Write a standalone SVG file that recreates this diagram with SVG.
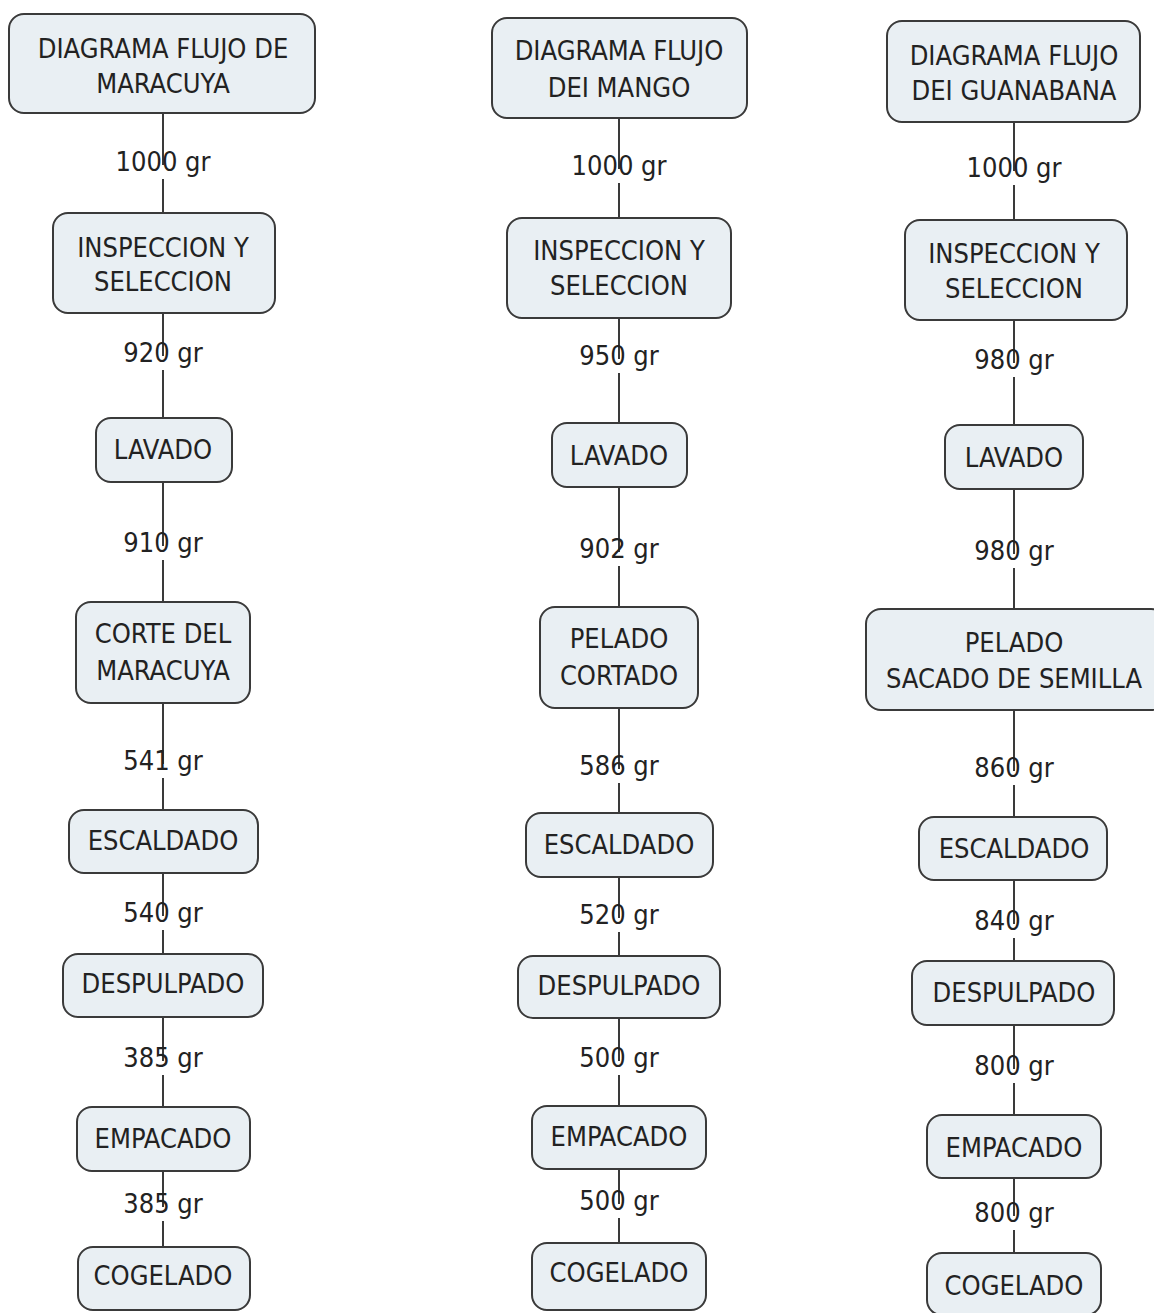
<svg xmlns="http://www.w3.org/2000/svg" width="1154" height="1313" viewBox="0 0 1154 1313">
<style>
.n rect{fill:#e9eff3;stroke:#3a3a3a;stroke-width:2}
text{font-family:"DejaVu Sans Condensed","DejaVu Sans",sans-serif;font-size:27px;fill:#222;text-anchor:middle}
.c line{stroke:#3a3a3a;stroke-width:2}
</style>
<rect width="1154" height="1313" fill="#fff"/>
<g class="c" id="connectors">
<line x1="163" y1="113" x2="163" y2="165"/><line x1="163" y1="179" x2="163" y2="213"/>
<line x1="163" y1="313" x2="163" y2="356"/><line x1="163" y1="370" x2="163" y2="418"/>
<line x1="163" y1="482" x2="163" y2="546"/><line x1="163" y1="560" x2="163" y2="602"/>
<line x1="163" y1="703" x2="163" y2="764"/><line x1="163" y1="778" x2="163" y2="810"/>
<line x1="163" y1="873" x2="163" y2="916"/><line x1="163" y1="930" x2="163" y2="954"/>
<line x1="163" y1="1017" x2="163" y2="1061"/><line x1="163" y1="1075" x2="163" y2="1107"/>
<line x1="163" y1="1171" x2="163" y2="1207"/><line x1="163" y1="1221" x2="163" y2="1247"/>

<line x1="619" y1="118" x2="619" y2="169"/><line x1="619" y1="183" x2="619" y2="218"/>
<line x1="619" y1="318" x2="619" y2="359"/><line x1="619" y1="373" x2="619" y2="423"/>
<line x1="619" y1="487" x2="619" y2="552"/><line x1="619" y1="566" x2="619" y2="607"/>
<line x1="619" y1="708" x2="619" y2="769"/><line x1="619" y1="783" x2="619" y2="813"/>
<line x1="619" y1="877" x2="619" y2="918"/><line x1="619" y1="932" x2="619" y2="956"/>
<line x1="619" y1="1018" x2="619" y2="1061"/><line x1="619" y1="1075" x2="619" y2="1106"/>
<line x1="619" y1="1169" x2="619" y2="1204"/><line x1="619" y1="1218" x2="619" y2="1243"/>

<line x1="1014" y1="122" x2="1014" y2="171"/><line x1="1014" y1="185" x2="1014" y2="220"/>
<line x1="1014" y1="320" x2="1014" y2="363"/><line x1="1014" y1="377" x2="1014" y2="425"/>
<line x1="1014" y1="489" x2="1014" y2="554"/><line x1="1014" y1="568" x2="1014" y2="609"/>
<line x1="1014" y1="710" x2="1014" y2="771"/><line x1="1014" y1="785" x2="1014" y2="817"/>
<line x1="1014" y1="880" x2="1014" y2="924"/><line x1="1014" y1="938" x2="1014" y2="961"/>
<line x1="1014" y1="1025" x2="1014" y2="1069"/><line x1="1014" y1="1083" x2="1014" y2="1115"/>
<line x1="1014" y1="1178" x2="1014" y2="1216"/><line x1="1014" y1="1230" x2="1014" y2="1253"/>
</g>
<g id="labels">
<text x="163" y="171">1000 gr</text><text x="163" y="362">920 gr</text><text x="163" y="552">910 gr</text><text x="163" y="770">541 gr</text><text x="163" y="922">540 gr</text><text x="163" y="1067">385 gr</text><text x="163" y="1213">385 gr</text>
<text x="619" y="175">1000 gr</text><text x="619" y="365">950 gr</text><text x="619" y="558">902 gr</text><text x="619" y="775">586 gr</text><text x="619" y="924">520 gr</text><text x="619" y="1067">500 gr</text><text x="619" y="1210">500 gr</text>
<text x="1014" y="177">1000 gr</text><text x="1014" y="369">980 gr</text><text x="1014" y="560">980 gr</text><text x="1014" y="777">860 gr</text><text x="1014" y="930">840 gr</text><text x="1014" y="1075">800 gr</text><text x="1014" y="1222">800 gr</text>
</g>
<g id="m1" class="n"><rect x="9" y="14" width="306" height="99" rx="15"/><text x="163" y="58">DIAGRAMA FLUJO DE</text><text x="163" y="93">MARACUYA</text></g>
<g id="m2" class="n"><rect x="53" y="213" width="222" height="100" rx="15"/><text x="163" y="257">INSPECCION Y</text><text x="163" y="291">SELECCION</text></g>
<g id="m3" class="n"><rect x="96" y="418" width="136" height="64" rx="15"/><text x="163" y="459">LAVADO</text></g>
<g id="m4" class="n"><rect x="76" y="602" width="174" height="101" rx="15"/><text x="163" y="643">CORTE DEL</text><text x="163" y="680">MARACUYA</text></g>
<g id="m5" class="n"><rect x="69" y="810" width="189" height="63" rx="15"/><text x="163" y="850">ESCALDADO</text></g>
<g id="m6" class="n"><rect x="63" y="954" width="200" height="63" rx="15"/><text x="163" y="993">DESPULPADO</text></g>
<g id="m7" class="n"><rect x="77" y="1107" width="173" height="64" rx="15"/><text x="163" y="1148">EMPACADO</text></g>
<g id="m8" class="n"><rect x="78" y="1247" width="172" height="63" rx="15"/><text x="163" y="1285">COGELADO</text></g>

<g id="g1" class="n"><rect x="492" y="18" width="255" height="100" rx="15"/><text x="619" y="60">DIAGRAMA FLUJO</text><text x="619" y="97">DEI MANGO</text></g>
<g id="g2" class="n"><rect x="507" y="218" width="224" height="100" rx="15"/><text x="619" y="260">INSPECCION Y</text><text x="619" y="295">SELECCION</text></g>
<g id="g3" class="n"><rect x="552" y="423" width="135" height="64" rx="15"/><text x="619" y="465">LAVADO</text></g>
<g id="g4" class="n"><rect x="540" y="607" width="158" height="101" rx="15"/><text x="619" y="648">PELADO</text><text x="619" y="685">CORTADO</text></g>
<g id="g5" class="n"><rect x="526" y="813" width="187" height="64" rx="15"/><text x="619" y="854">ESCALDADO</text></g>
<g id="g6" class="n"><rect x="518" y="956" width="202" height="62" rx="15"/><text x="619" y="995">DESPULPADO</text></g>
<g id="g7" class="n"><rect x="532" y="1106" width="174" height="63" rx="15"/><text x="619" y="1146">EMPACADO</text></g>
<g id="g8" class="n"><rect x="532" y="1243" width="174" height="67" rx="15"/><text x="619" y="1282">COGELADO</text></g>

<g id="h1" class="n"><rect x="887" y="21" width="253" height="101" rx="15"/><text x="1014" y="65">DIAGRAMA FLUJO</text><text x="1014" y="100">DEI GUANABANA</text></g>
<g id="h2" class="n"><rect x="905" y="220" width="222" height="100" rx="15"/><text x="1014" y="263">INSPECCION Y</text><text x="1014" y="298">SELECCION</text></g>
<g id="h3" class="n"><rect x="945" y="425" width="138" height="64" rx="15"/><text x="1014" y="467">LAVADO</text></g>
<g id="h4" class="n"><rect x="866" y="609" width="300" height="101" rx="15"/><text x="1014" y="652">PELADO</text><text x="1014" y="688">SACADO DE SEMILLA</text></g>
<g id="h5" class="n"><rect x="919" y="817" width="188" height="63" rx="15"/><text x="1014" y="858">ESCALDADO</text></g>
<g id="h6" class="n"><rect x="912" y="961" width="202" height="64" rx="15"/><text x="1014" y="1002">DESPULPADO</text></g>
<g id="h7" class="n"><rect x="927" y="1115" width="174" height="63" rx="15"/><text x="1014" y="1157">EMPACADO</text></g>
<g id="h8" class="n"><rect x="927" y="1253" width="174" height="62" rx="15"/><text x="1014" y="1295">COGELADO</text></g>
</svg>
